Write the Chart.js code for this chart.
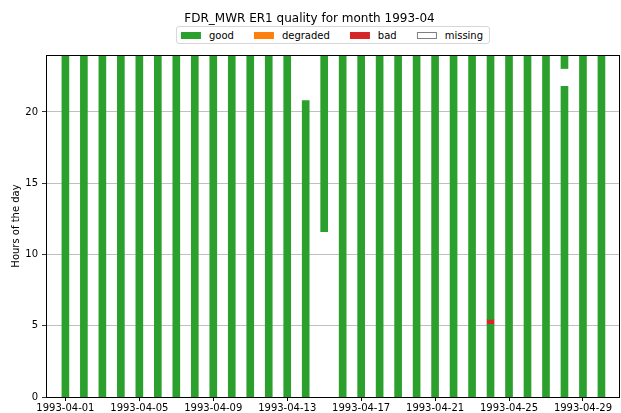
<!DOCTYPE html>
<html>
<head>
<meta charset="utf-8">
<script src="https://cdn.jsdelivr.net/npm/chart.js@4/dist/chart.umd.min.js"></script>
<style>
  html, body { margin: 0; padding: 0; background: #fff; }
  #wrap { position: relative; width: 621px; height: 413px; }
  #legenda {
    position: absolute; top: 26px; left: 333px; transform: translateX(-50%);
    display: flex; align-items: center; height: 16px;
    padding: 0 6px 0 4px; border: 1px solid #d6d6d6; border-radius: 3px;
    font-family: 'DejaVu Sans', sans-serif; font-size: 10px; color: #000;
    white-space: nowrap; background: #fff;
  }
  #legenda .item { display: flex; align-items: center; margin-right: 20px; }
  #legenda .item:last-child { margin-right: 0; }
  #legenda .caixa { width: 20px; height: 7px; margin-right: 8px; box-sizing: border-box; }
</style>
</head>
<body>
<div id="wrap">
  <canvas id="grafico"></canvas>
  <div id="legenda"></div>
</div>
<script>
// dias do mes 1993-04
const dias = [1, 2, 3, 4, 5, 6, 7, 8, 9, 10, 11, 12, 13, 14, 15,
              16, 17, 18, 19, 20, 21, 22, 23, 24, 25, 26, 27, 28, 29, 30];

// trecho principal "good" (horas)
const goodInicio = [0, 0, 0, 0, 0, 0, 0, 0, 0, 0, 0, 0, 0, 0, 11.6,
                    0, 0, 0, 0, 0, 0, 0, 0, 0, 0, 0, 0, 0, 0, 0];
const goodFim    = [24, 24, 24, 24, 24, 24, 24, 24, 24, 24, 24, 24, 24, 20.8, 24,
                    24, 24, 24, 24, 24, 24, 24, 24, 5.1, 24, 24, 24, 21.8, 24, 24];

// trechos extras "good" (mesmo dia, depois de uma falha)
const goodExtraDias   = [24, 28];
const goodExtraInicio = [5.45, 23.05];
const goodExtraFim    = [24, 24];

// trechos "bad"
const badDias   = [24];
const badInicio = [5.1];
const badFim    = [5.45];

// ticks
const diasTicks = [1, 5, 9, 13, 17, 21, 25, 29];
const horasTicks = [0, 5, 10, 15, 20];

function rotulo(d) {
    return '1993-04-' + String(d).padStart(2, '0');
}

const good = dias.map((d, i) => ({ x: d, y: [goodInicio[i], goodFim[i]] }));
const goodExtra = goodExtraDias.map((d, i) => ({ x: d, y: [goodExtraInicio[i], goodExtraFim[i]] }));
const bad = badDias.map((d, i) => ({ x: d, y: [badInicio[i], badFim[i]] }));

const fonte = 'DejaVu Sans';

// moldura preta em volta da area do grafico
const moldura = {
    id: 'moldura',
    afterDraw(chart) {
        const ctx = chart.ctx;
        const a = chart.chartArea;
        ctx.save();
        ctx.strokeStyle = '#000';
        ctx.lineWidth = 1;
        ctx.strokeRect(Math.round(a.left) + 0.5, Math.round(a.top) + 0.5,
                       Math.round(a.right - a.left), Math.round(a.bottom - a.top));
        ctx.restore();
    }
};

// legenda em html, montada a partir dos labels do proprio chart.js
const legendaHtml = {
    id: 'legendaHtml',
    afterUpdate(chart) {
        const el = document.getElementById('legenda');
        el.innerHTML = '';
        const itens = chart.options.plugins.legend.labels.generateLabels(chart)
            .filter(it => it.text !== 'good-extra');
        itens.forEach(it => {
            const item = document.createElement('div');
            item.className = 'item';
            const caixa = document.createElement('span');
            caixa.className = 'caixa';
            caixa.style.background = it.fillStyle;
            if (it.lineWidth > 0) caixa.style.border = '1px solid ' + it.strokeStyle;
            const txt = document.createElement('span');
            txt.textContent = it.text;
            item.appendChild(caixa);
            item.appendChild(txt);
            el.appendChild(item);
        });
    }
};

new Chart(document.getElementById('grafico'), {
    type: 'bar',
    data: {
        datasets: [
            { label: 'good', data: good, backgroundColor: '#2ca02c', borderWidth: 0 },
            { label: 'good-extra', data: goodExtra, backgroundColor: '#2ca02c', borderWidth: 0 },
            { label: 'degraded', data: [], backgroundColor: '#ff7f0e', borderWidth: 0 },
            { label: 'bad', data: bad, backgroundColor: '#d62728', borderWidth: 0 },
            { label: 'missing', data: [], backgroundColor: '#ffffff', borderColor: '#808080', borderWidth: 1 }
        ]
    },
    options: {
        responsive: true,
        maintainAspectRatio: false,
        animation: false,
        grouped: false,
        barThickness: 7,
        layout: { padding: { left: 0, right: 2, top: 0, bottom: 0 } },
        plugins: {
            title: {
                display: true,
                text: 'FDR_MWR ER1 quality for month 1993-04',
                color: '#000',
                font: { family: fonte, size: 12, weight: 'normal' },
                padding: { top: 12, bottom: 28.6 }
            },
            legend: { display: false },
            tooltip: { enabled: false }
        },
        scales: {
            x: {
                type: 'linear',
                offset: false,
                min: -0.05,
                max: 30.95,
                afterBuildTicks: s => { s.ticks = diasTicks.map(v => ({ value: v })); },
                afterFit: s => { s.height = 16; },
                ticks: {
                    color: '#000',
                    font: { family: fonte, size: 10 },
                    padding: 1,
                    maxRotation: 0,
                    autoSkip: false,
                    callback: v => rotulo(v)
                },
                grid: { offset: false, drawOnChartArea: false, tickLength: 4, tickColor: '#000' },
                border: { color: '#000' }
            },
            y: {
                min: 0,
                max: 24,
                afterBuildTicks: s => { s.ticks = horasTicks.map(v => ({ value: v })); },
                afterFit: s => { s.width = 46; },
                title: {
                    display: true,
                    text: 'Hours of the day',
                    color: '#000',
                    font: { family: fonte, size: 10 },
                    padding: { top: 10, bottom: 0 }
                },
                ticks: {
                    color: '#000',
                    font: { family: fonte, size: 10 },
                    padding: 4
                },
                grid: { color: '#b0b0b0', lineWidth: 0.8, tickLength: 4, tickColor: '#000' },
                border: { color: '#000' }
            }
        }
    },
    plugins: [moldura, legendaHtml]
});
</script>
</body>
</html>
